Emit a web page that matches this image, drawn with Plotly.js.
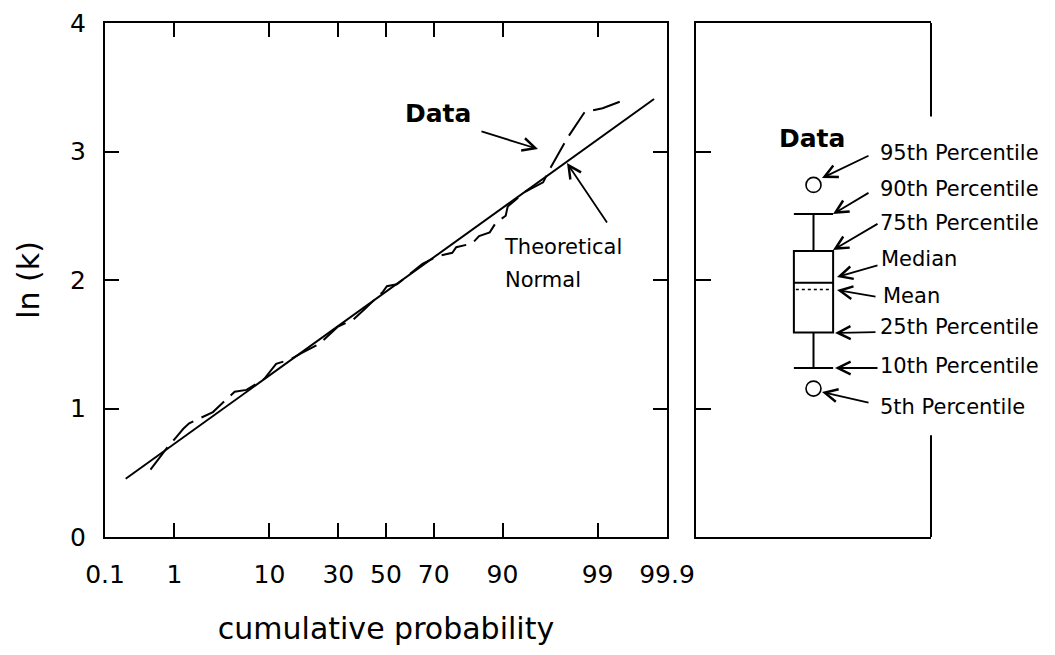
<!DOCTYPE html>
<html>
<head>
<meta charset="utf-8">
<script src="https://cdn.plot.ly/plotly-3.0.1.min.js"></script>
<style>
  html, body { margin: 0; padding: 0; background: #ffffff; }
  #chart { width: 1055px; height: 655px; }
</style>
</head>
<body>
<div id="chart"></div>
<script>
// ---------------- data ----------------
const probTickValues = [0.1, 1, 10, 30, 50, 70, 90, 99, 99.9];
const probTickLabels = ['0.1', '1', '10', '30', '50', '70', '90', '99', '99.9'];
const lnkTickValues = [0, 1, 2, 3, 4];
const lnkTickLabels = ['0', '1', '2', '3', '4'];

// observed data (cumulative probability in %, ln k)
const dataProb = [0.48, 0.81, 1.03, 1.29, 1.52, 2.85, 3.63, 4.80, 6.25, 8.03, 9.04, 11.35,
  14.57, 17.75, 23.3, 29.7, 36.0, 41.0, 48.7, 50.4, 54.8, 65.6, 71.1, 76.7, 78.0, 82.8,
  84.7, 87.3, 88.6, 90.6, 90.96, 93.75, 95.8, 96.4, 97.7, 98.56, 99.14, 99.50];
const dataLnK = [0.525, 0.698, 0.770, 0.842, 0.885, 0.972, 1.044, 1.131, 1.145, 1.203, 1.231, 1.347,
  1.381, 1.433, 1.505, 1.635, 1.693, 1.779, 1.909, 1.952, 1.967, 2.125, 2.183, 2.212, 2.255, 2.284,
  2.342, 2.371, 2.443, 2.500, 2.572, 2.688, 2.760, 2.861, 3.106, 3.308, 3.337, 3.389];

// theoretical normal line
const normalProb = [0.21, 99.84];
const normalLnK = [0.453, 3.409];

// box plot summary (ln k)
const boxP5 = 1.155;
const boxP10 = 1.316;
const boxP25 = 1.592;
const boxMedian = 1.978;
const boxMean = 1.927;
const boxP75 = 2.225;
const boxP90 = 2.514;
const boxP95 = 2.740;

// ---------------- probability (probit) scale ----------------
function probit(pct) {
  const p = pct / 100;
  const a = [-3.969683028665376e+01, 2.209460984245205e+02, -2.759285104469687e+02, 1.383577518672690e+02, -3.066479806614716e+01, 2.506628277459239e+00];
  const b = [-5.447609879822406e+01, 1.615858368580409e+02, -1.556989798598866e+02, 6.680131188771972e+01, -1.328068155288572e+01];
  const c = [-7.784894002430293e-03, -3.223964580411365e-01, -2.400758277161838e+00, -2.549732539343734e+00, 4.374664141464968e+00, 2.938163982698783e+00];
  const d = [7.784695709041462e-03, 3.224671290700398e-01, 2.445134137142996e+00, 3.754408661907416e+00];
  const pl = 0.02425, ph = 1 - pl;
  let q, r;
  if (p < pl) {
    q = Math.sqrt(-2 * Math.log(p));
    return (((((c[0]*q+c[1])*q+c[2])*q+c[3])*q+c[4])*q+c[5]) / ((((d[0]*q+d[1])*q+d[2])*q+d[3])*q+1);
  }
  if (p <= ph) {
    q = p - 0.5; r = q * q;
    return (((((a[0]*r+a[1])*r+a[2])*r+a[3])*r+a[4])*r+a[5])*q / (((((b[0]*r+b[1])*r+b[2])*r+b[3])*r+b[4])*r+1);
  }
  q = Math.sqrt(-2 * Math.log(1 - p));
  return -(((((c[0]*q+c[1])*q+c[2])*q+c[3])*q+c[4])*q+c[5]) / ((((d[0]*q+d[1])*q+d[2])*q+d[3])*q+1);
}

// ---------------- styling / layout ----------------
const FONT = 'DejaVu Sans, Liberation Sans, Arial, sans-serif';
const W = 1055, H = 655;
const M = {l: 105, r: 124, t: 23, b: 118};
const plotW = W - M.l - M.r, plotH = H - M.t - M.b;
const P = (px, py) => ({x: (px - M.l) / plotW, y: (H - M.b - py) / plotH});

const boxCenter = 0.5;
const boxWidth = 0.167;

const traces = [
  {
    type: 'scatter', mode: 'lines', name: 'Theoretical Normal',
    x: normalProb.map(probit), y: normalLnK,
    line: {color: '#000', width: 2},
    xaxis: 'x', yaxis: 'y', hoverinfo: 'skip'
  },
  {
    type: 'scatter', mode: 'lines', name: 'Data',
    x: dataProb.map(probit), y: dataLnK,
    line: {color: '#000', width: 2, dash: '28px,9px'},
    xaxis: 'x', yaxis: 'y', hoverinfo: 'skip'
  },
  {
    type: 'box', name: 'Data box', orientation: 'v',
    x: [boxCenter], q1: [boxP25], median: [boxMedian], q3: [boxP75],
    lowerfence: [boxP10], upperfence: [boxP90],
    width: boxWidth, whiskerwidth: 1, boxpoints: false,
    line: {color: '#000', width: 2}, fillcolor: 'rgba(0,0,0,0)',
    xaxis: 'x2', yaxis: 'y2', hoverinfo: 'skip'
  },
  {
    type: 'scatter', mode: 'lines', name: 'Mean',
    x: [boxCenter - boxWidth / 2 * 0.9, boxCenter + boxWidth / 2 * 0.9], y: [boxMean, boxMean],
    line: {color: '#000', width: 1.5, dash: 'dot'},
    xaxis: 'x2', yaxis: 'y2', hoverinfo: 'skip'
  },
  {
    type: 'scatter', mode: 'markers', name: '5th/95th',
    x: [boxCenter, boxCenter], y: [boxP5, boxP95],
    marker: {symbol: 'circle-open', size: 15, color: '#000', line: {color: '#000', width: 1.6}},
    xaxis: 'x2', yaxis: 'y2', hoverinfo: 'skip'
  }
];

const axisCommon = {
  showline: true, linecolor: '#000', linewidth: 2,
  showgrid: false, zeroline: false,
  ticks: 'inside', tickcolor: '#000', tickwidth: 2,
  tickfont: {family: FONT, size: 25, color: '#000'}
};

const arrowStyle = {showarrow: true, arrowhead: 5, arrowsize: 1.4, arrowwidth: 1.8, arrowcolor: '#000', text: '', xref: 'paper', yref: 'paper'};
function arrow(headPx, headPy, tailPx, tailPy, extra) {
  const p = P(headPx, headPy);
  return Object.assign({}, arrowStyle, {x: p.x, y: p.y, ax: tailPx - headPx, ay: tailPy - headPy}, extra || {});
}
function label(text, px, py, size, anchor, bold) {
  const p = P(px, py);
  return {
    text: bold ? '<b>' + text + '</b>' : text, showarrow: false,
    xref: 'paper', yref: 'paper', x: p.x, y: p.y,
    xanchor: anchor || 'left', yanchor: 'middle',
    font: {family: FONT, size: size, color: '#000'}
  };
}

const annotations = [
  // left panel
  label('Data', 438, 113, 25, 'center', true),
  arrow(538, 149, 480, 131),
  label('Theoretical', 502, 247, 21, 'left'),
  label('Normal', 503, 280, 21, 'left'),
  arrow(567, 163, 608, 224),
  // right panel
  label('Data', 812, 138, 25, 'center', true),
  label('95th Percentile', 878, 153, 21),
  label('90th Percentile', 878, 189, 21),
  label('75th Percentile', 878, 223, 21),
  label('Median', 879, 259, 21),
  label('Mean', 881, 296, 21),
  label('25th Percentile', 878, 327, 21),
  label('10th Percentile', 878, 366, 21),
  label('5th Percentile', 878, 407, 21),
  arrow(822, 178, 870, 155),
  arrow(833, 214, 870, 192),
  arrow(833, 250, 879, 223),
  arrow(837, 277, 879, 265),
  arrow(837, 290, 877, 297),
  arrow(835, 333, 877, 332),
  arrow(835, 368, 879, 368),
  arrow(822, 392, 870, 403)
];

const layout = {
  width: W, height: H,
  margin: M,
  paper_bgcolor: '#fff', plot_bgcolor: '#fff',
  showlegend: false,
  font: {family: FONT, color: '#000'},
  xaxis: Object.assign({}, axisCommon, {
    domain: [0, (667 - M.l) / plotW],
    range: [probit(0.1), probit(99.9)],
    tickmode: 'array', tickvals: probTickValues.map(probit), ticktext: probTickLabels,
    ticklen: 14, mirror: 'ticks', anchor: 'y',
    ticklabelstandoff: 14,
    title: {text: 'cumulative probability', font: {family: FONT, size: 30, color: '#000'}, standoff: 30}
  }),
  yaxis: Object.assign({}, axisCommon, {
    domain: [0, 1], range: [0, 4],
    tickmode: 'array', tickvals: lnkTickValues, ticktext: lnkTickLabels,
    ticklen: 14, mirror: 'ticks', anchor: 'x',
    ticklabelstandoff: 12,
    title: {text: 'ln (k)', font: {family: FONT, size: 30, color: '#000'}, standoff: 22}
  }),
  xaxis2: {
    domain: [(696 - M.l) / plotW, 1], range: [0, 1], anchor: 'y2',
    showline: true, linecolor: '#000', linewidth: 2, mirror: true,
    showgrid: false, zeroline: false, ticks: '', showticklabels: false
  },
  yaxis2: Object.assign({}, axisCommon, {
    domain: [0, 1], range: [0, 4], anchor: 'x2',
    tickmode: 'array', tickvals: lnkTickValues,
    ticklen: 15, mirror: false, showticklabels: false
  }),
  shapes: [
    {type: 'line', xref: 'x2 domain', yref: 'y2 domain', x0: 1, x1: 1, y0: 1, y1: 0.818, line: {color: '#000', width: 2}},
    {type: 'line', xref: 'x2 domain', yref: 'y2 domain', x0: 1, x1: 1, y0: 0.198, y1: 0, line: {color: '#000', width: 2}}
  ],
  annotations: annotations
};

Plotly.newPlot('chart', traces, layout, {staticPlot: true, displayModeBar: false});
</script>
</body>
</html>
